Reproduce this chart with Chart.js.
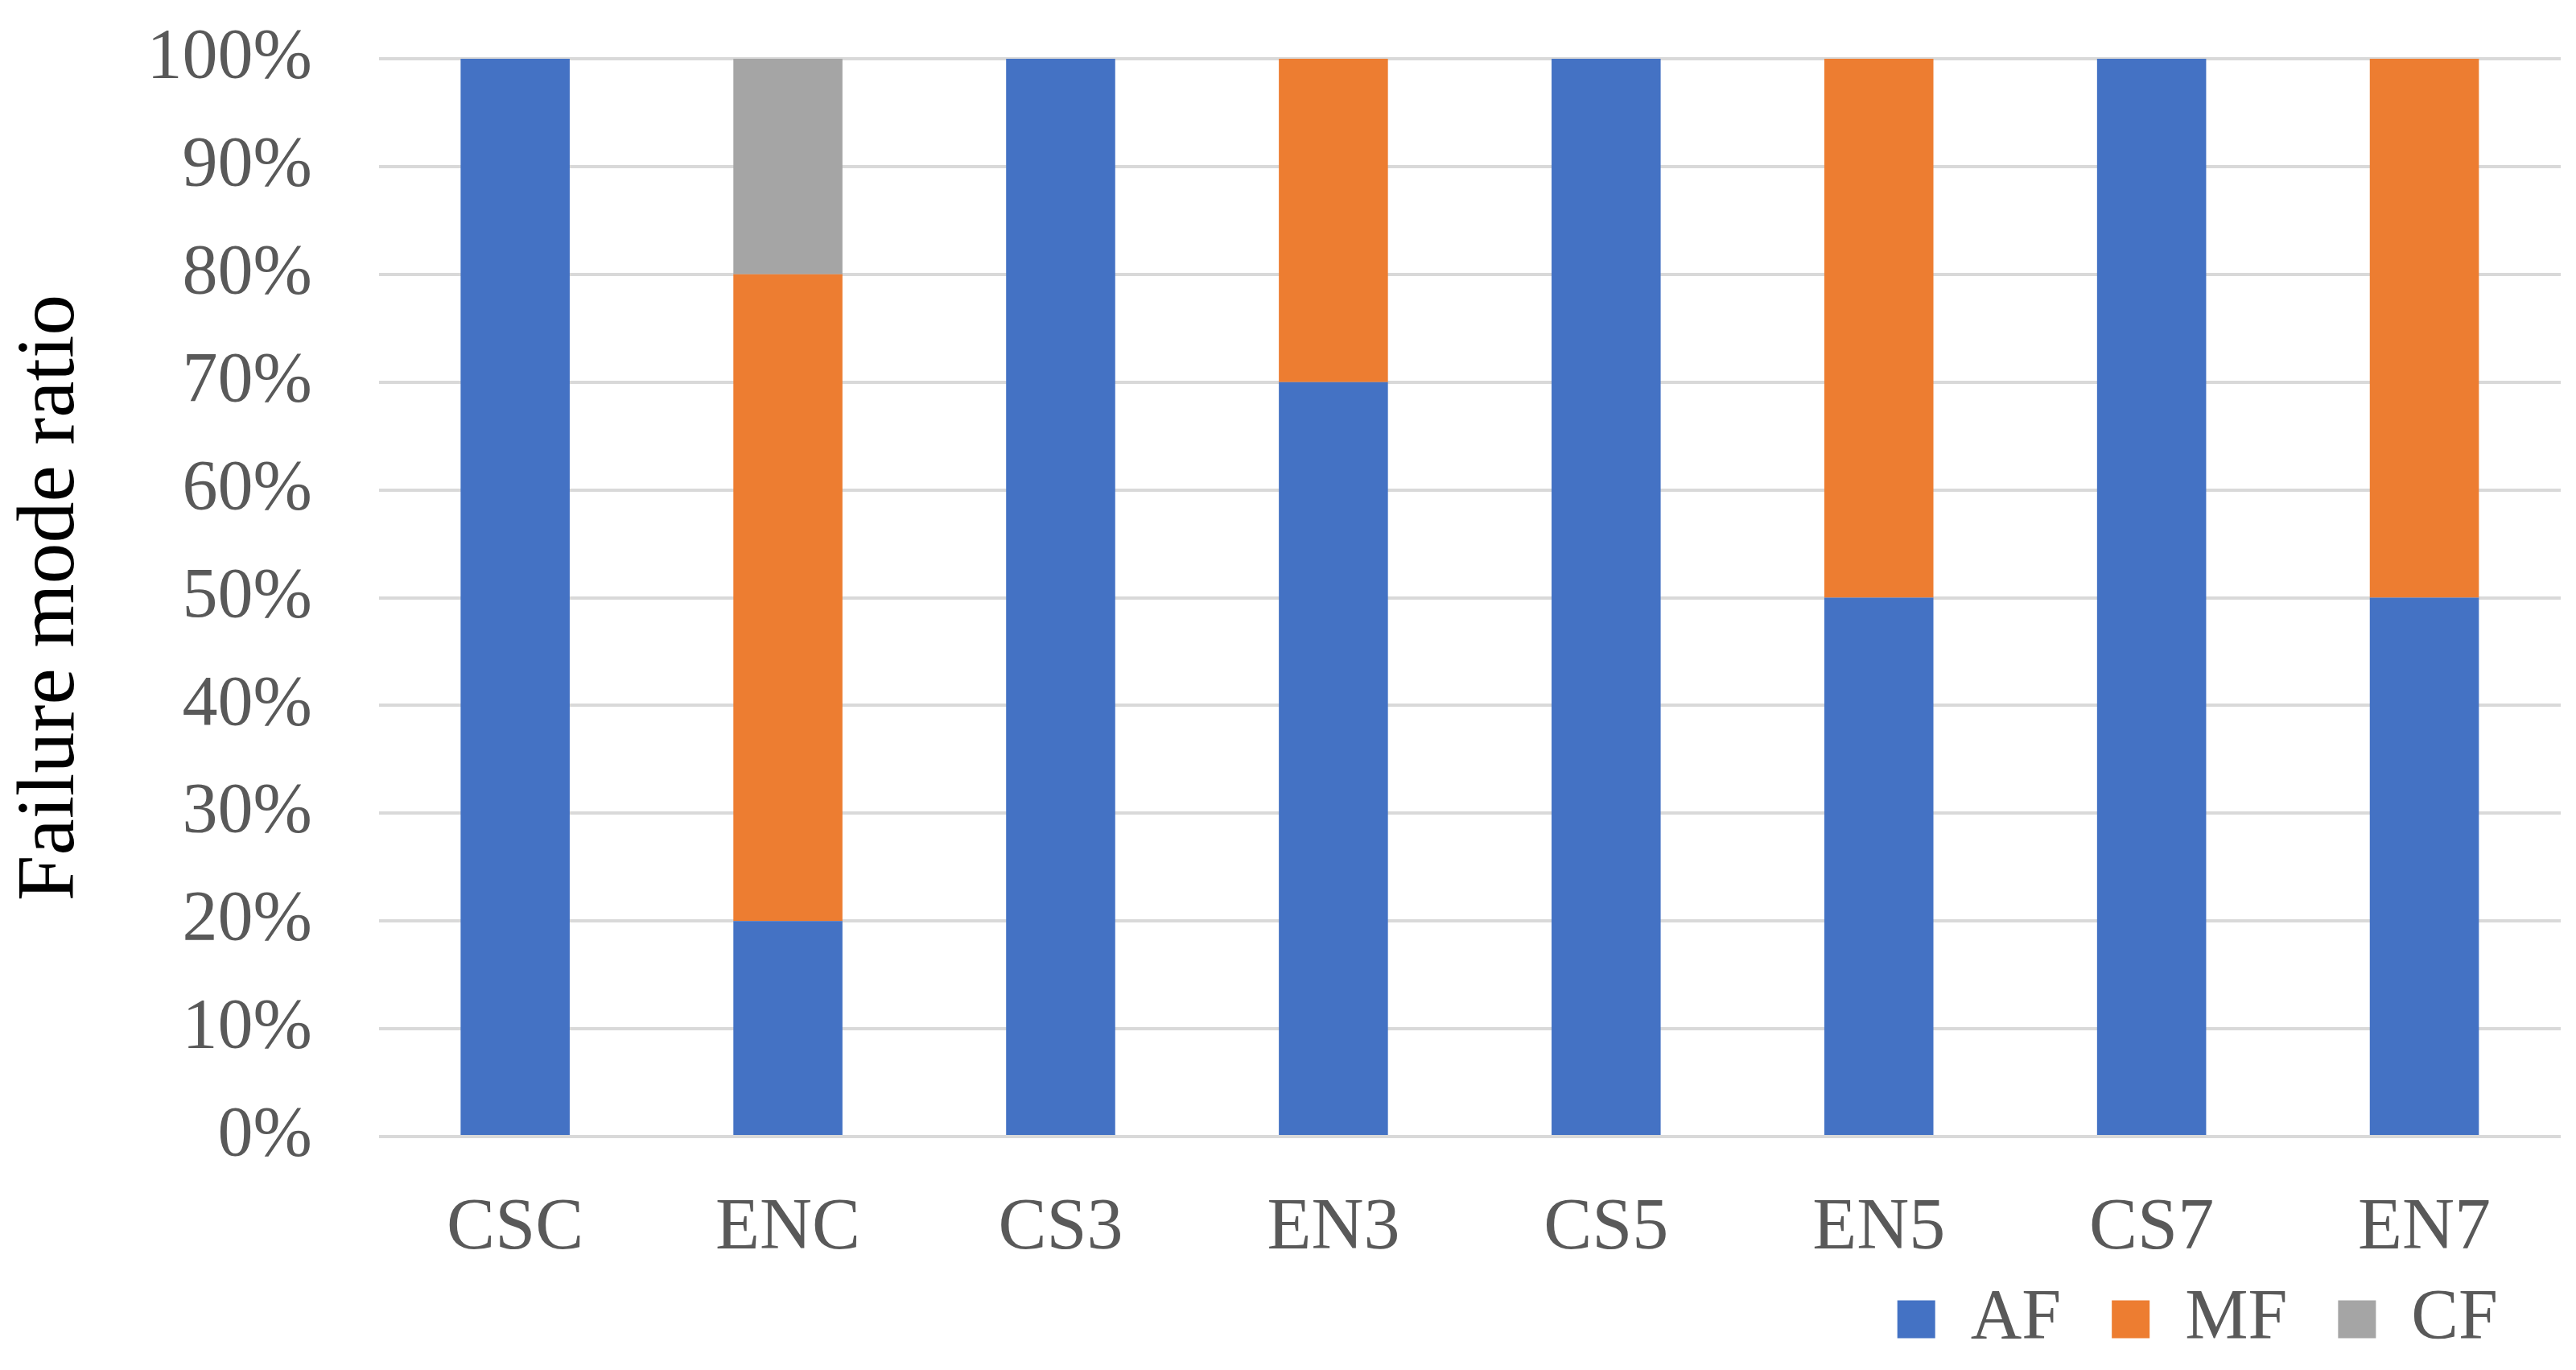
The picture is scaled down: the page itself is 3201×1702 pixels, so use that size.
<!DOCTYPE html>
<html>
<head>
<meta charset="utf-8">
<title>Failure mode ratio</title>
<script src="https://cdn.jsdelivr.net/npm/chart.js@4.4.1/dist/chart.umd.min.js"></script>
<style>
  html, body { margin: 0; padding: 0; background: #fff; }
  #wrap { width: 3201px; height: 1702px; position: relative; }
</style>
</head>
<body>
<div id="wrap"><canvas id="failure-chart"></canvas></div>
<script>
// Categories and series (percent of specimens)
const categories = ['CSC', 'ENC', 'CS3', 'EN3', 'CS5', 'EN5', 'CS7', 'EN7'];
const afValues = [100, 20, 100, 70, 100, 50, 100, 50];
const mfValues = [0, 60, 0, 30, 0, 50, 0, 50];
const cfValues = [0, 20, 0, 0, 0, 0, 0, 0];
const seriesNames = ['AF', 'MF', 'CF'];
const yTicks = [0, 10, 20, 30, 40, 50, 60, 70, 80, 90, 100];

const FONT = "'Liberation Serif', 'Times New Roman', serif";
const TICK_COLOR = '#595959';

// Move the legend box after layout (Excel-like placement, close under the axis labels)
const legendShift = {
  id: 'legendShift',
  afterLayout(chart) {
    const lg = chart.legend;
    if (!lg) return;
    const dx = -15, dy = -110;
    lg.left += dx;
    lg.right += dx;
    lg.top += dy;
    lg.bottom += dy;
  }
};

const ctx = document.getElementById('failure-chart').getContext('2d');
const failureChart = new Chart(ctx, {
  type: 'bar',
  data: {
    labels: categories,
    datasets: [
      { label: seriesNames[0], data: afValues, backgroundColor: '#4472C4' },
      { label: seriesNames[1], data: mfValues, backgroundColor: '#ED7D31' },
      { label: seriesNames[2], data: cfValues, backgroundColor: '#A5A5A5' },
    ],
  },
  options: {
    responsive: true,
    maintainAspectRatio: false,
    animation: false,
    devicePixelRatio: 1,
    datasets: {
      bar: { categoryPercentage: 1.0, barPercentage: 0.4, borderWidth: 0 },
    },
    layout: { padding: { left: 0, right: 19, top: 73, bottom: -101 } },
    plugins: {
      tooltip: { enabled: false },
      legend: {
        position: 'bottom',
        align: 'end',
        labels: {
          boxWidth: 47,
          boxHeight: 47,
          padding: 63,
          color: TICK_COLOR,
          font: { family: FONT, size: 88 },
        },
      },
    },
    scales: {
      x: {
        stacked: true,
        grid: { display: false, drawTicks: false },
        border: { display: false },
        ticks: {
          color: TICK_COLOR,
          padding: 61,
          font: { family: FONT, size: 90 },
        },
      },
      y: {
        stacked: true,
        min: 0,
        max: 100,
        afterBuildTicks(scale) {
          scale.ticks = yTicks.map((v) => ({ value: v }));
        },
        // the label padding would otherwise push the plot top down
        afterFit(scale) {
          scale.paddingTop = 0;
          scale.paddingBottom = 0;
        },
        grid: { color: '#D9D9D9', lineWidth: 4, drawTicks: false },
        border: { display: false },
        ticks: {
          color: TICK_COLOR,
          padding: 83,
          font: { family: FONT, size: 88 },
          callback: (v) => v + '%',
        },
        title: {
          display: true,
          text: 'Failure mode ratio',
          color: '#000',
          font: { family: FONT, size: 102 },
          padding: { top: 3, bottom: -26 },
        },
      },
    },
  },
  plugins: [legendShift],
});
</script>
</body>
</html>
